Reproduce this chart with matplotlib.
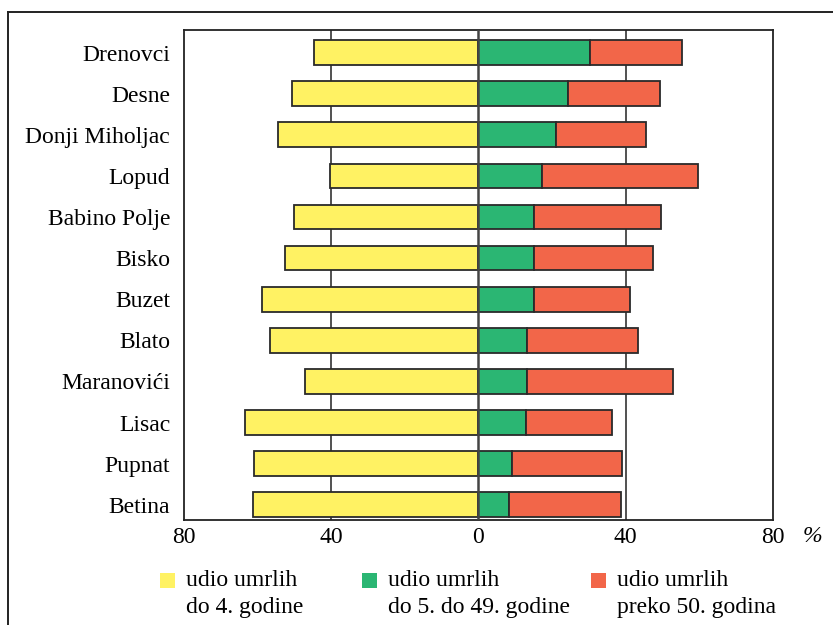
import matplotlib
matplotlib.use("Agg")
import matplotlib.pyplot as plt
from matplotlib.patches import Rectangle
from matplotlib.lines import Line2D
import numpy as np

places = ["Drenovci", "Desne", "Donji Miholjac", "Lopud", "Babino Polje", "Bisko",
          "Buzet", "Blato", "Maranovići", "Lisac", "Pupnat", "Betina"]
under5 = [44.6, 50.6, 54.5, 40.3, 50.1, 52.5, 58.7, 56.6, 47.0, 63.5, 61.1, 61.2]
age5_49 = [30.3, 24.2, 21.0, 17.2, 15.1, 15.1, 15.0, 13.2, 13.2, 12.8, 9.2, 8.3]
over50_total = [55.3, 49.3, 45.5, 59.7, 49.7, 47.4, 41.2, 43.4, 52.9, 36.4, 38.9, 38.7]
over50 = [t - g for t, g in zip(over50_total, age5_49)]

tick_vals = [-80, -40, 0, 40, 80]
tick_labels = ["80", "40", "0", "40", "80"]
legend_labels = [("udio umrlih", "do 4. godine"),
                 ("udio umrlih", "do 5. do 49. godine"),
                 ("udio umrlih", "preko 50. godina")]

c_yellow = "#FFF263"
c_green = "#2BB673"
c_red = "#F26649"
edge = "#2a2a2a"

plt.rcParams['font.family'] = ['Liberation Serif', 'DejaVu Serif']
FS = 17

W, H = 833, 625
fig = plt.figure(figsize=(W / 100, H / 100), dpi=100)
ax = fig.add_axes([184 / W, 1 - 520 / H, (773 - 184) / W, (520 - 30) / H])

y = np.arange(len(places))
bh = 0.6
ax.barh(y, [-v for v in under5], height=bh, color=c_yellow, edgecolor=edge, linewidth=1.3, zorder=3)
ax.barh(y, age5_49, height=bh, color=c_green, edgecolor=edge, linewidth=1.3, zorder=3)
ax.barh(y, over50, left=age5_49, height=bh, color=c_red, edgecolor=edge, linewidth=1.3, zorder=3)

for v in [-40, 40]:
    ax.axvline(v, color="#333333", lw=1.2, zorder=1)
ax.axvline(0, color="#444444", lw=1.8, zorder=4)

ax.set_xlim(-80, 80)
ax.set_ylim(len(places) - 1 + 0.37, -0.55)
ax.set_yticks(y)
ax.set_yticklabels(places, fontsize=FS)
ax.set_xticks(tick_vals)
ax.set_xticklabels(tick_labels, fontsize=FS)
ax.tick_params(axis='y', length=0, pad=10)
ax.tick_params(axis='x', length=0, pad=5)
for s in ax.spines.values():
    s.set_linewidth(1.3)
    s.set_color("#222222")

fig.text(812 / W, 1 - 537 / H, "%", fontsize=FS, style='italic', ha='center', va='center')

# frame around the figure
fig.add_artist(Line2D([8 / W, 8 / W], [0, 1 - 12 / H], transform=fig.transFigure, color="#222222", lw=1.4))
fig.add_artist(Line2D([8 / W, 1], [1 - 12 / H, 1 - 12 / H], transform=fig.transFigure, color="#222222", lw=1.4))

# legend
leg_x = [160, 362, 591]
cols = [c_yellow, c_green, c_red]
for x0, c, (l1, l2) in zip(leg_x, cols, legend_labels):
    fig.add_artist(Rectangle((x0 / W, 1 - 588 / H), 15 / W, 15 / H, transform=fig.transFigure,
                             facecolor=c, edgecolor='none'))
    fig.text((x0 + 26) / W, 1 - 580 / H, l1, fontsize=FS, ha='left', va='center')
    fig.text((x0 + 26) / W, 1 - 607 / H, l2, fontsize=FS, ha='left', va='center')

fig.savefig("out.png", dpi=100)
